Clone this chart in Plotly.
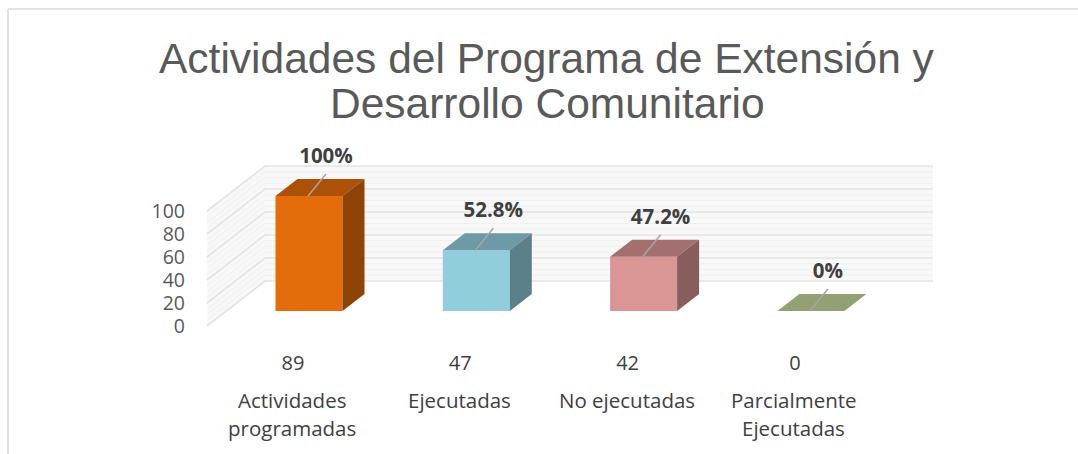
import plotly.graph_objects as go

categories_1 = ["Actividades", "Ejecutadas", "No ejecutadas", "Parcialmente"]
categories_2 = ["programadas", "", "", "Ejecutadas"]
counts = [89, 47, 42, 0]
percent = [100, 52.8, 47.2, 0]
percent_text = ["100%", "52.8%", "47.2%", "0%"]
front = ["#E46C0A", "#92CDDC", "#D99694", "#C3D69B"]
top = ["#AB5108", "#6D9AA5", "#A3706F", "#92A074"]
side = ["#8E4406", "#5B808A", "#885E5D", "#7A8661"]
wall_ticks = [0, 20, 40, 60, 80, 100]

W, H = 1078, 454
PX_X = 167.3      # px per category
PX_Y = 1.15       # px per percent unit
X0 = 309          # px of first bar centre
Y0 = 311          # px of bar base
WALL0 = 326       # px of the 0 tick on the front of the side wall

def xr(dx):
    return dx / PX_X

def yr(dy):
    return dy / PX_Y

BAR_W = 67 / PX_X
DX, DY = xr(22), yr(17)
WALL_L, WALL_B, WALL_R = xr(207 - X0), xr(265 - X0), xr(933 - X0)
WALL_D = yr(45)

fig = go.Figure()

# ---- wall (lower axis, carries the value tick labels)
fig.add_trace(go.Scatter(
    x=[WALL_B, WALL_R, WALL_R, WALL_B, WALL_L, WALL_L, WALL_B],
    y=[WALL_D, WALL_D, 100 + WALL_D, 100 + WALL_D, 100, 0, WALL_D],
    mode="lines", fill="toself", fillcolor="#F8F8F8", line=dict(width=0),
    hoverinfo="skip", showlegend=False, xaxis="x", yaxis="y"))
for base in wall_ticks[:-1]:
    for step in (5, 10, 15):
        v = base + step
        fig.add_trace(go.Scatter(
            x=[WALL_L, WALL_B, WALL_R], y=[v, v + WALL_D, v + WALL_D],
            mode="lines", line=dict(color="#F0F0F0", width=1),
            hoverinfo="skip", showlegend=False, xaxis="x", yaxis="y"))
for v in wall_ticks:
    fig.add_trace(go.Scatter(
        x=[WALL_L, WALL_B, WALL_R], y=[v, v + WALL_D, v + WALL_D],
        mode="lines", line=dict(color="#E3E3E3", width=1.6),
        hoverinfo="skip", showlegend=False, xaxis="x", yaxis="y"))

# ---- bars (overlay axis)
fig.add_trace(go.Bar(
    x=list(range(4)), y=percent, width=BAR_W, marker=dict(color=front, line=dict(width=0)),
    hoverinfo="skip", showlegend=False, xaxis="x", yaxis="y2"))
for i, v in enumerate(percent):
    l, r = i - BAR_W / 2, i + BAR_W / 2
    fig.add_trace(go.Scatter(
        x=[l, r, r + DX, l + DX, l], y=[v, v, v + DY, v + DY, v],
        mode="lines", fill="toself", fillcolor=top[i], line=dict(width=0),
        hoverinfo="skip", showlegend=False, xaxis="x", yaxis="y2"))
    if v > 0:
        fig.add_trace(go.Scatter(
            x=[r, r + DX, r + DX, r, r], y=[0, DY, v + DY, v, 0],
            mode="lines", fill="toself", fillcolor=side[i], line=dict(width=0),
            hoverinfo="skip", showlegend=False, xaxis="x", yaxis="y2"))
    fig.add_trace(go.Scatter(
        x=[i - xr(1), i + xr(17)], y=[v, v + yr(22)],
        mode="lines", line=dict(color="#A6A6A6", width=1.5),
        hoverinfo="skip", showlegend=False, xaxis="x", yaxis="y2"))

fig.add_trace(go.Scatter(
    x=[i + xr(17) for i in range(4)], y=[v + yr(38) for v in percent],
    text=percent_text, mode="text", textposition="middle center",
    textfont=dict(family="Open Sans", size=20.5, color="#404040", weight="bold"),
    hoverinfo="skip", showlegend=False, xaxis="x", yaxis="y2"))

LABEL_SHIFT = xr(-16)
annotations = [
    dict(text="Actividades del Programa de Extensión y", xref="paper", yref="paper",
         x=547 / W, y=1 - 58 / H, showarrow=False, xanchor="center", yanchor="middle",
         font=dict(family="Liberation Sans", size=42.5, color="#595959")),
    dict(text="Desarrollo Comunitario", xref="paper", yref="paper",
         x=547 / W, y=1 - 103 / H, showarrow=False, xanchor="center", yanchor="middle",
         font=dict(family="Liberation Sans", size=42.5, color="#595959")),
]
for i in range(4):
    for txt, py in ((categories_1[i], 400), (categories_2[i], 428)):
        if txt:
            annotations.append(dict(
                text=txt, xref="x", yref="paper", x=i + LABEL_SHIFT - xr(1), y=1 - py / H,
                showarrow=False, xanchor="center", yanchor="middle",
                font=dict(family="Open Sans", size=20.5, color="#404040")))

frame = [
    dict(type="line", xref="paper", yref="paper", x0=8 / W, x1=8 / W, y0=0, y1=1 - 9 / H,
         line=dict(color="#D9D9D9", width=1.5)),
    dict(type="line", xref="paper", yref="paper", x0=8 / W, x1=1, y0=1 - 9 / H, y1=1 - 9 / H,
         line=dict(color="#D9D9D9", width=1.5)),
]

fig.update_layout(
    width=W, height=H, autosize=False,
    margin=dict(l=0, r=0, t=0, b=0),
    paper_bgcolor="white", plot_bgcolor="white",
    barmode="overlay", showlegend=False,
    annotations=annotations, shapes=frame,
    xaxis=dict(
        range=[xr(-X0), xr(W - X0)], domain=[0, 1], anchor="free", position=1 - 349 / H,
        tickmode="array", tickvals=[i + LABEL_SHIFT for i in range(4)],
        ticktext=[str(c) for c in counts], showgrid=False, zeroline=False,
        showline=False, ticks="", tickangle=0,
        tickfont=dict(family="Open Sans", size=20, color="#404040")),
    yaxis=dict(
        range=[yr(WALL0 - H), yr(WALL0)], domain=[0, 1], anchor="free", position=185 / W,
        tickmode="array", tickvals=wall_ticks, showgrid=False, zeroline=False,
        showline=False, ticks="",
        tickfont=dict(family="Open Sans", size=19.5, color="#595959")),
    yaxis2=dict(
        range=[yr(Y0 - H), yr(Y0)], domain=[0, 1], overlaying="y", side="left",
        visible=False, showgrid=False, zeroline=False),
)
fig.write_html(
    "out.html",
    config=dict(displayModeBar=False),
    post_script="document.documentElement.style.margin='0';document.body.style.margin='0';"
                "document.documentElement.style.overflow='hidden';",
)
